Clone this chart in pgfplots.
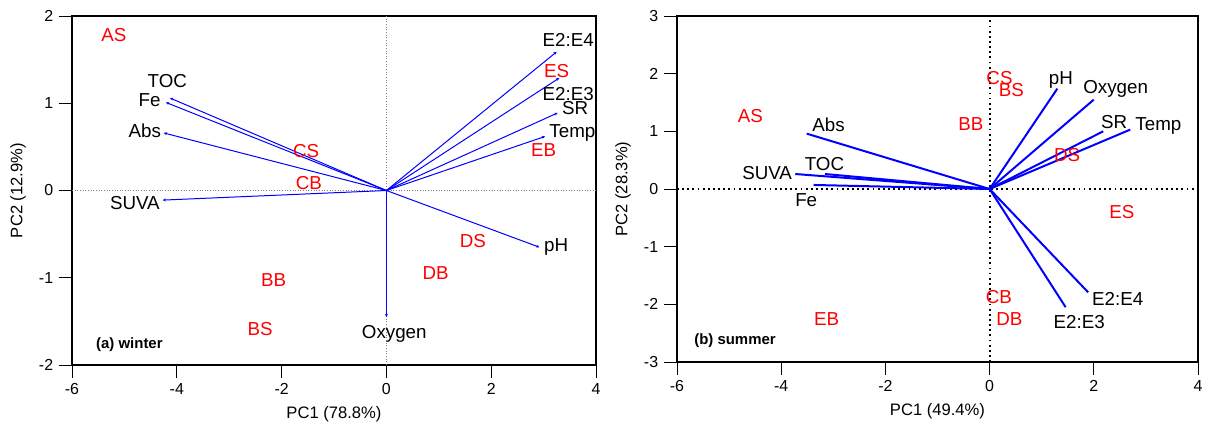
\documentclass[border=0pt]{standalone}
\usepackage{pgfplots}
\pgfplotsset{compat=1.18}
\usepackage{pgfplotstable}
\usepackage{fontspec}
\setmainfont{Liberation Sans}
\usetikzlibrary{arrows.meta}

% winter loadings (arrow tips)
\pgfplotstableread{
x y name
-4.13 1.06 TOC
-4.21 1.01 Fe
-4.25 0.66 Abs
-4.27 -0.11 SUVA
3.25 1.59 E2:E4
3.30 1.29 E2:E3
3.27 0.89 SR
3.03 0.62 Temp
2.92 -0.65 pH
0.00 -1.45 Oxygen
}\winterload
% winter variable label positions
\pgfplotstableread{
x y name
-4.18 1.26 TOC
-4.52 1.04 Fe
-4.61 0.68 Abs
-4.80 -0.14 SUVA
3.47 1.73 E2:E4
3.47 1.11 E2:E3
3.60 0.94 SR
3.55 0.66 Temp
3.24 -0.65 pH
0.15 -1.64 Oxygen
}\wintervars
% winter site scores
\pgfplotstableread{
x y name
-5.20 1.78 AS
3.25 1.37 ES
3.00 0.46 EB
-1.53 0.45 CS
-1.48 0.09 CB
1.65 -0.58 DS
0.94 -0.95 DB
-2.15 -1.03 BB
-2.41 -1.59 BS
}\wintersites

% summer loadings
\pgfplotstableread{
x y name
-3.51 0.96 Abs
-3.16 0.26 TOC
-3.73 0.26 SUVA
-3.38 0.07 Fe
1.30 1.74 pH
2.00 1.55 Oxygen
2.18 1.00 SR
2.70 1.03 Temp
1.89 -1.79 E2:E4
1.46 -2.05 E2:E3
}\summerload
\pgfplotstableread{
x y name
-3.09 1.12 Abs
-3.17 0.44 TOC
-4.27 0.27 SUVA
-3.52 -0.19 Fe
1.37 1.89 pH
2.42 1.73 Oxygen
2.39 1.16 SR
3.24 1.09 Temp
2.46 -1.90 E2:E4
1.72 -2.31 E2:E3
}\summervars
\pgfplotstableread{
x y name
-4.59 1.27 AS
-0.36 1.12 BB
0.19 1.92 CS
0.42 1.71 BS
1.49 0.59 DS
2.54 -0.40 ES
0.18 -1.87 CB
0.38 -2.25 DB
-3.13 -2.25 EB
}\summersites

\pgfplotsset{
  rbase/.style={
    scale only axis,
    xmin=-6, xmax=4,
    xtick={-6,-4,...,4},
    tick pos=left,
    tick align=outside,
    major tick length=7.8bp,
    tick style={black, line width=0.6pt},
    axis line style={black, line width=0.7pt},
    /pgf/number format/assume math mode=true,
    tick label style={font=\fontsize{9.6}{11}\selectfont},
    label style={font=\fontsize{9.3}{11}\selectfont},
    every axis x label/.style={at={(axis description cs:0.5,0)}, anchor=center, yshift=-29.4bp},
    every axis y label/.style={at={(axis description cs:0,0.5)}, anchor=center, xshift=-32.4bp, rotate=90},
    clip=false,
  },
  txt/.style={draw=none, mark=none, nodes near coords, point meta=explicit symbolic,
    every node near coord/.append style={anchor=center, inner sep=0pt, font=\fontsize{11.3}{13}\selectfont, text=#1}},
}

\begin{document}
\begin{tikzpicture}
\useasboundingbox (-43.2bp,-39bp) rectangle (681bp,219bp);

% (a) winter
\begin{axis}[rbase, at={(0bp,0bp)}, anchor=south west,
  width=314.4bp, height=209.4bp,
  ymin=-2, ymax=2, ytick={-2,-1,...,2},
  xlabel={PC1 (78.8\%)}, ylabel={PC2 (12.9\%)}]
\addplot[gray, densely dotted, line width=0.6pt] coordinates {(-6,0) (4,0)};
\addplot[gray, densely dotted, line width=0.6pt] coordinates {(0,-2) (0,2)};
\addplot[blue, line width=0.6pt, -{Stealth[length=2pt,width=1.8pt]}] coordinates {(0,0) (-4.13,1.06)};
\addplot[blue, line width=0.6pt, -{Stealth[length=2pt,width=1.8pt]}] coordinates {(0,0) (-4.21,1.01)};
\addplot[blue, line width=0.6pt, -{Stealth[length=2pt,width=1.8pt]}] coordinates {(0,0) (-4.25,0.66)};
\addplot[blue, line width=0.6pt, -{Stealth[length=2pt,width=1.8pt]}] coordinates {(0,0) (-4.27,-0.11)};
\addplot[blue, line width=0.6pt, -{Stealth[length=2pt,width=1.8pt]}] coordinates {(0,0) (3.25,1.59)};
\addplot[blue, line width=0.6pt, -{Stealth[length=2pt,width=1.8pt]}] coordinates {(0,0) (3.30,1.29)};
\addplot[blue, line width=0.6pt, -{Stealth[length=2pt,width=1.8pt]}] coordinates {(0,0) (3.27,0.89)};
\addplot[blue, line width=0.6pt, -{Stealth[length=2pt,width=1.8pt]}] coordinates {(0,0) (3.03,0.62)};
\addplot[blue, line width=0.6pt, -{Stealth[length=2pt,width=1.8pt]}] coordinates {(0,0) (2.92,-0.65)};
\addplot[blue, line width=0.6pt, -{Stealth[length=2pt,width=1.8pt]}] coordinates {(0,0) (0.00,-1.45)};
\addplot[txt=black] table[meta=name] {\wintervars};
\addplot[txt=red] table[meta=name] {\wintersites};
\node[anchor=west, font=\bfseries\fontsize{9}{10}\selectfont] at (axis cs:-5.65,-1.77) {(a) winter};
\end{axis}

% (b) summer
\begin{axis}[rbase, at={(363bp,1.8bp)}, anchor=south west,
  width=312.6bp, height=207.6bp,
  ymin=-3, ymax=3, ytick={-3,-2,...,3},
  axis line style={black, line width=1pt},
  xlabel={PC1 (49.4\%)}, ylabel={PC2 (28.3\%)}]
\addplot[black, dotted, line width=1.1pt] coordinates {(-6,0) (4,0)};
\addplot[black, dotted, line width=1.1pt] coordinates {(0,-3) (0,3)};
\addplot[blue, line width=1.2pt] coordinates {(0,0) (-3.51,0.96)};
\addplot[blue, line width=1.2pt] coordinates {(0,0) (-3.16,0.26)};
\addplot[blue, line width=1.2pt] coordinates {(0,0) (-3.73,0.26)};
\addplot[blue, line width=1.2pt] coordinates {(0,0) (-3.38,0.07)};
\addplot[blue, line width=1.2pt] coordinates {(0,0) (1.30,1.74)};
\addplot[blue, line width=1.2pt] coordinates {(0,0) (2.00,1.55)};
\addplot[blue, line width=1.2pt] coordinates {(0,0) (2.18,1.00)};
\addplot[blue, line width=1.2pt] coordinates {(0,0) (2.70,1.03)};
\addplot[blue, line width=1.2pt] coordinates {(0,0) (1.89,-1.79)};
\addplot[blue, line width=1.2pt] coordinates {(0,0) (1.46,-2.05)};
\addplot[txt=black] table[meta=name] {\summervars};
\addplot[txt=red] table[meta=name] {\summersites};
\node[anchor=west, font=\bfseries\fontsize{9}{10}\selectfont] at (axis cs:-5.78,-2.63) {(b) summer};
\end{axis}
\end{tikzpicture}
\end{document}
